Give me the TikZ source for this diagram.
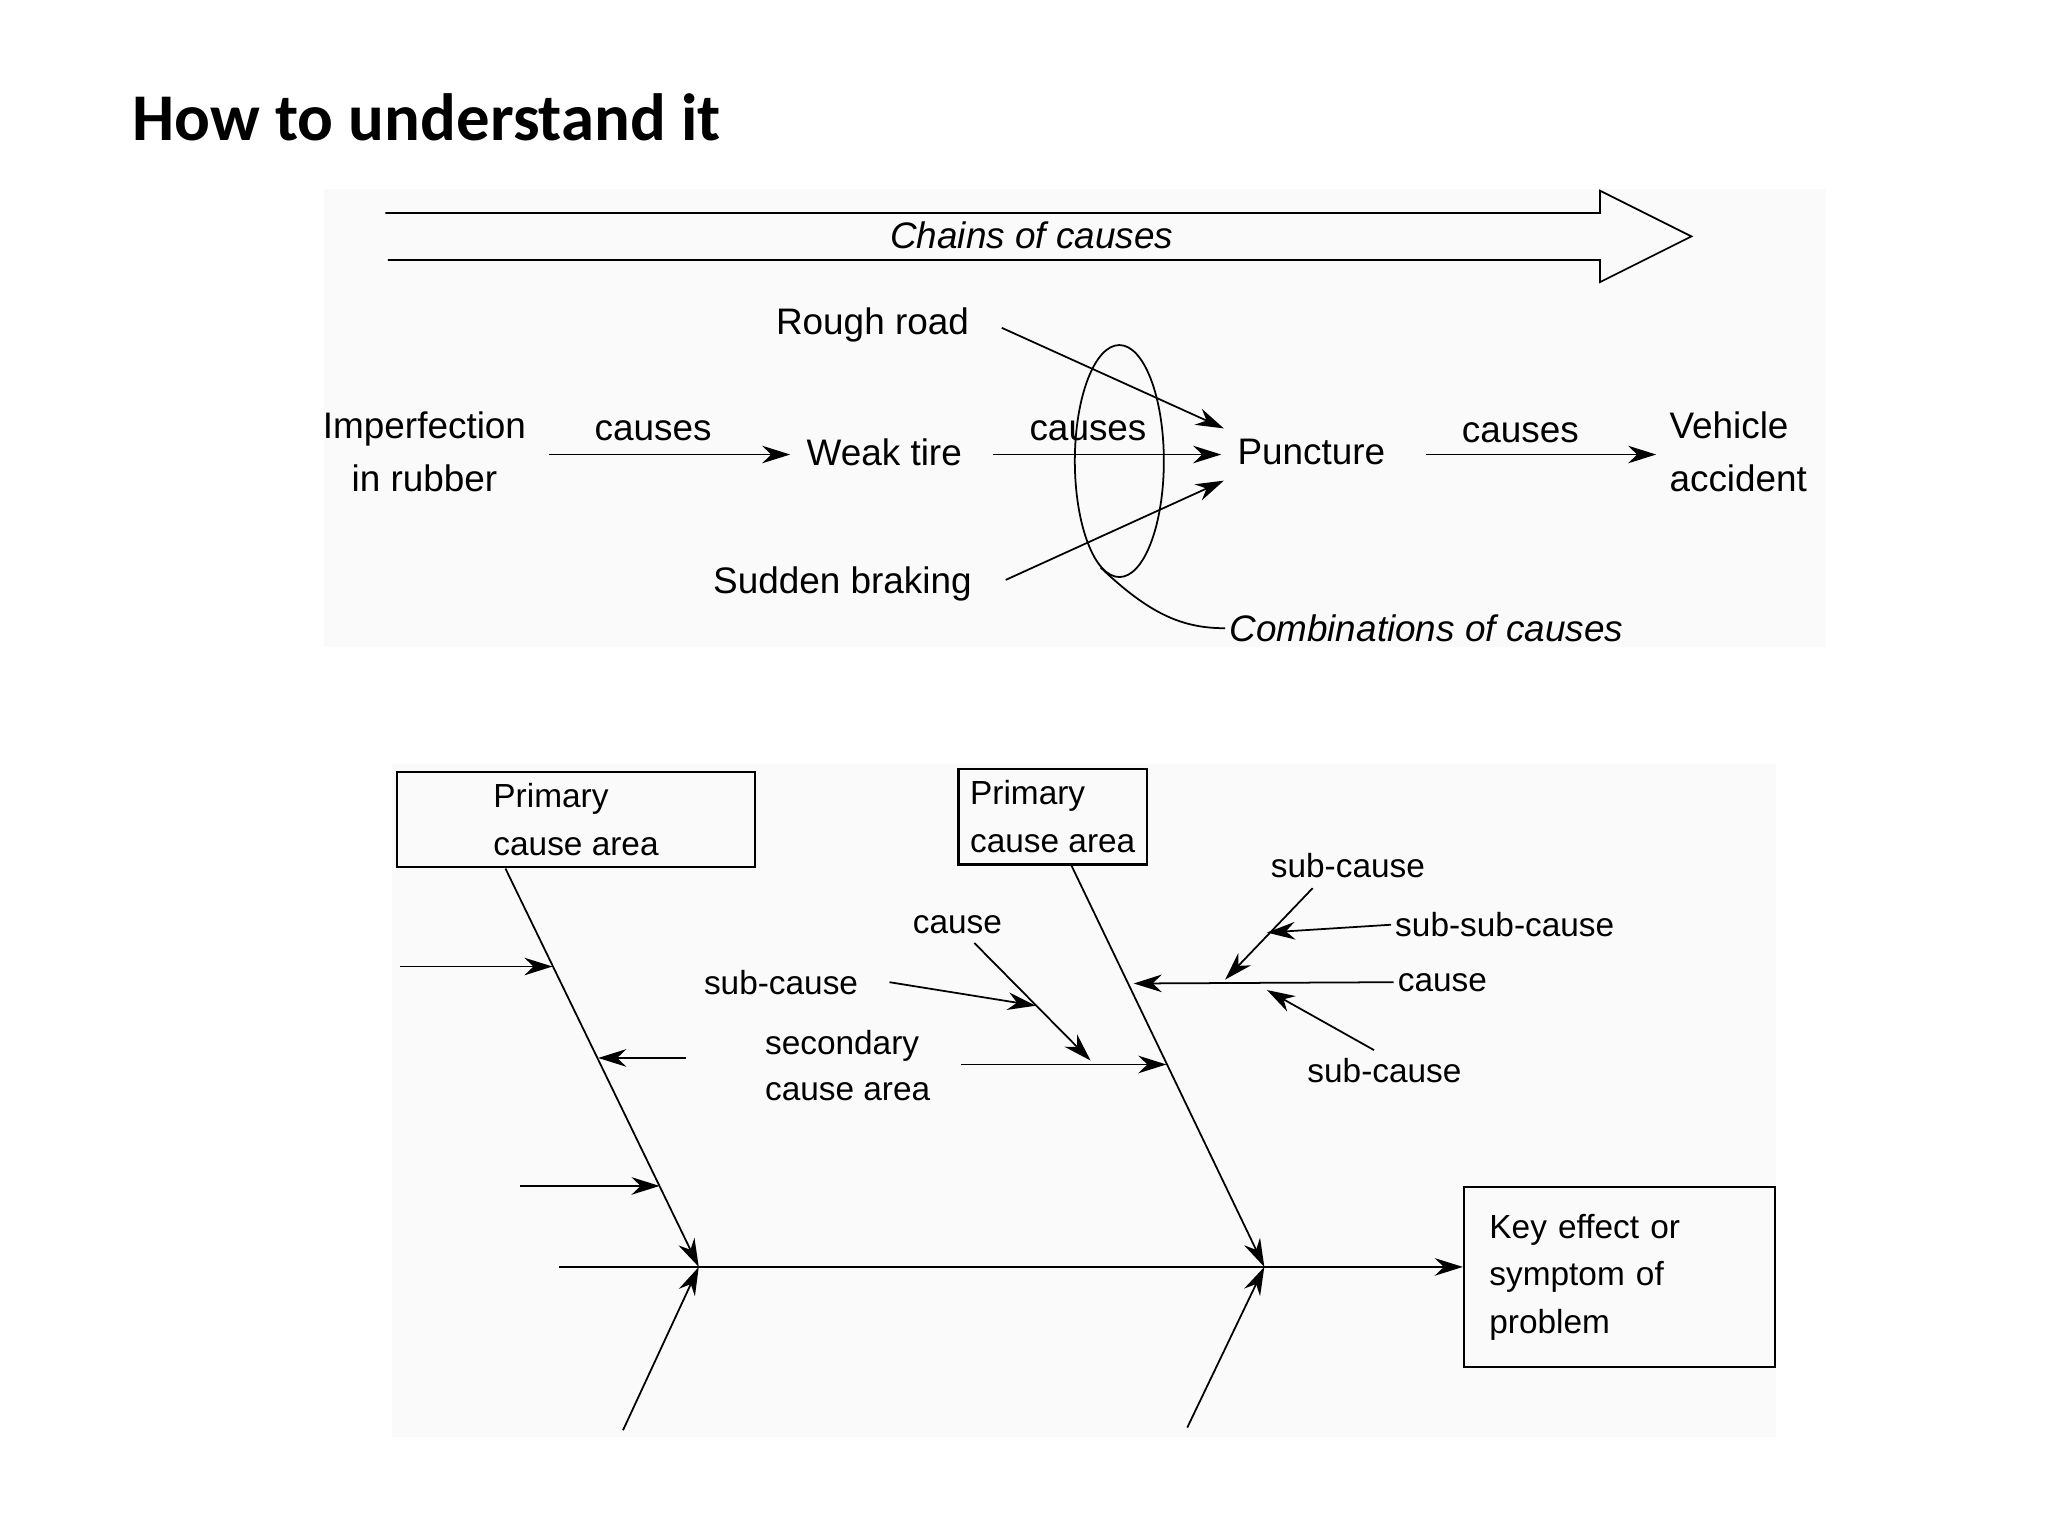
\documentclass[tikz,border=0pt]{standalone}
\usepackage{fontspec}
\setmainfont{Liberation Sans}
\newfontfamily\titlefont{Carlito}
\usetikzlibrary{arrows.meta,shapes.geometric}
\begin{document}
\begin{tikzpicture}[x=0.013061cm,y=-0.013061cm,
     txt/.style={font=\fontsize{10.5}{15}\selectfont, inner sep=1pt},
     small/.style={font=\fontsize{9.5}{13}\selectfont, inner sep=1pt},
     ar/.style={-{Stealth[length=8pt,width=5pt]}, line width=0.5pt},
     ln/.style={line width=0.5pt},
     pbox/.style={rectangle, draw, line width=0.6pt, align=left, anchor=north west, font=\fontsize{9.5}{13.5}\selectfont}]
    \useasboundingbox (0,0) rectangle (1568,1176);
    \fill[black!2] (248,145) rectangle (1398,495);
    \fill[black!2] (300,585) rectangle (1360,1100);

    \node[anchor=west, font=\titlefont\bfseries\fontsize{19}{22}\selectfont] (title) at (92,90) {How to understand it};

    % chain of causes
    \draw[ln] (295,163) -- (1225,163) -- (1225,146) -- (1295,181) -- (1225,216) -- (1225,199) -- (297,199);
    \node[txt, font=\itshape\fontsize{10.5}{15}\selectfont] (chain) at (790,180) {Chains of causes};

    \node[txt, align=center] (imp) at (325,346) {Imperfection\\in rubber};
    \node[txt] (weak) at (677,346) {Weak tire};
    \node[txt] (punct) at (1004,346) {Puncture};
    \node[txt, align=left, anchor=west] (veh) at (1275,346) {Vehicle\\accident};
    \node[txt] (rough) at (668,249) {Rough road};
    \node[txt] (brake) at (645,447) {Sudden braking};
    \node[txt] (c1) at (500,330) {causes};
    \node[txt] (c2) at (833,330) {causes};
    \node[txt] (c3) at (1164,331) {causes};

    \draw[ar] (imp.east)++(14,2) coordinate (i0) (i0) -- (605,348) coordinate (i1);
    \draw[ar] (760,348) coordinate (w0) -- (935,348) coordinate (w1);
    \draw[ar] (1092,348) coordinate (p0) -- (1268,348) coordinate (p1);
    \draw[ar] (767,251) coordinate (r0) -- (937,328) coordinate (r1);
    \draw[ar] (770,444) coordinate (b0) -- (937,368) coordinate (b1);

    \node[ellipse, draw, line width=0.5pt, minimum width=68\pgflinewidth, inner sep=0pt,
          minimum width=0.89cm, minimum height=2.32cm] (comb) at (857,353) {};
    \node[txt, font=\itshape\fontsize{10.5}{15}\selectfont, anchor=west] (combl) at (938,481) {Combinations of causes};
    \draw[ln] (comb.-100) .. controls (880,470) and (905,481) .. (combl.west);

    % fishbone
    \node[pbox, minimum width=170\pgflinewidth] (prim1) at (303,590) {Primary\\cause area};
    \node[pbox] (prim2) at (733,588) {Primary\\cause area};
    \node[pbox, minimum width=3.11cm, minimum height=1.8cm, text width=2.6cm] (key) at (1120,908) {Key effect or\\symptom of\\problem};

    \coordinate (s0) at (428,970);
    \coordinate (j1) at (535,970);
    \coordinate (j2) at (968,970);
    \coordinate (t1) at (387,665);
    \coordinate (t2) at (820,662);
    \coordinate (u1) at (477,1095);
    \coordinate (u2) at (909,1093);
    \draw[ar] (s0) -- (key.west |- s0);
    \draw[ar] (t1) -- (j1);
    \draw[ar] (t2) -- (j2);
    \draw[ar] (u1) -- (j1);
    \draw[ar] (u2) -- (j2);

    \draw[ar] (306,740) coordinate (a0) -- (423,740) coordinate (a1);
    \draw[ar] (525,810) coordinate (a2) -- (458,810) coordinate (a3);
    \draw[ar] (398,908) coordinate (a4) -- (505,908) coordinate (a5);

    \node[small] (cause1) at (733,708) {cause};
    \node[small] (sub1) at (598,752) {sub-cause};
    \node[small, align=left] (sec) at (649,816) {secondary\\cause area};
    \node[small] (sub2) at (1032,663) {sub-cause};
    \node[small, anchor=west] (subsub) at (1065,708) {sub-sub-cause};
    \node[small, anchor=west] (cause2) at (1067,752) {cause};
    \node[small] (sub3) at (1060,820) {sub-cause};

    \draw[ar] (736,815) coordinate (e0) -- (893,815) coordinate (e1);
    \draw[ar] (746,722) coordinate (f0) -- (835,812) coordinate (f1);
    \draw[ar] (681,752) coordinate (g0) -- (793,770) coordinate (g1);
    \draw[ar] (cause2.west) -- (868,753) coordinate (h1);
    \draw[ar] (1005,680) coordinate (k0) -- (938,750) coordinate (k1);
    \draw[ar] (subsub.west) -- (970,714) coordinate (m1);
    \draw[ar] (1052,804) coordinate (n0) -- (970,758) coordinate (n1);
\end{tikzpicture}
\end{document}
